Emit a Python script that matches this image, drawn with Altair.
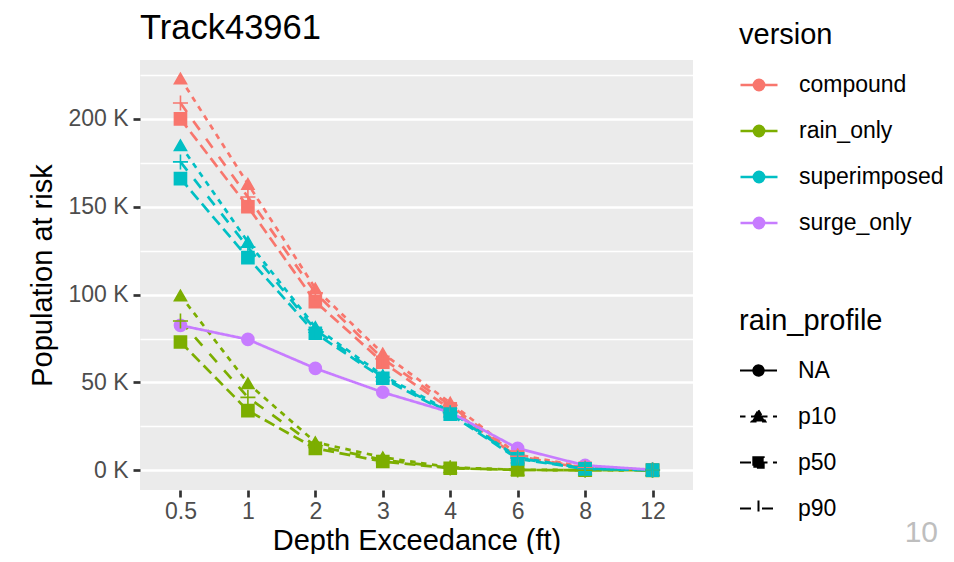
import altair as alt
import pandas as pd

depths = ["0.5", "1", "2", "3", "4", "6", "8", "12"]
versions = ["compound", "rain_only", "superimposed", "surge_only"]
profiles = ["NA", "p10", "p50", "p90"]
version_colors = ["#F8766D", "#7CAE00", "#00BFC4", "#C77CFF"]

# population at risk, in thousands
compound_p10 = [223, 163, 103.5, 66.5, 38.5, 9, 1.7, 0.3]
compound_p50 = [200, 150, 96, 61.5, 35, 7.5, 1.2, 0.2]
compound_p90 = [209, 155.5, 101, 63.5, 37, 8, 1.4, 0.3]
rain_only_p10 = [99.5, 49.5, 16, 7.4, 1.7, 0.3, 0.1, 0.0]
rain_only_p50 = [73, 34, 12.5, 5, 1.2, 0.2, 0.1, 0.0]
rain_only_p90 = [85, 41.5, 14, 6, 1.4, 0.2, 0.1, 0.0]
superimposed_p10 = [185, 130, 81.5, 54, 33.5, 7.4, 1.0, 0.2]
superimposed_p50 = [166, 121, 78, 52.4, 32, 6.5, 0.8, 0.1]
superimposed_p90 = [175.5, 127, 80, 53, 32.8, 7, 0.9, 0.2]
surge_only_na = [82.5, 74.5, 58, 44.4, 33, 12.5, 2.8, 0.3]

series = [
    ("compound", "p10", compound_p10),
    ("compound", "p50", compound_p50),
    ("compound", "p90", compound_p90),
    ("rain_only", "p10", rain_only_p10),
    ("rain_only", "p50", rain_only_p50),
    ("rain_only", "p90", rain_only_p90),
    ("superimposed", "p10", superimposed_p10),
    ("superimposed", "p50", superimposed_p50),
    ("superimposed", "p90", superimposed_p90),
    ("surge_only", "NA", surge_only_na),
]

rows = []
for v, p, vals in series:
    for d, val in zip(depths, vals):
        rows.append({"depth": d, "pop": val, "version": v, "rain_profile": p})
df = pd.DataFrame(rows)

FONT = "Liberation Sans"

color_scale = alt.Scale(domain=versions, range=version_colors)
profile_shapes = ["circle", "triangle-up", "square", "M-1.25,0H1.25M0,-1.25V1.25"]
dash_scale = alt.Scale(domain=profiles, range=[[1, 0], [5.5, 5.5], [11, 5.5], [11, 11]])

x_enc = alt.X(
    "depth:O",
    sort=depths,
    scale=alt.Scale(type="point", padding=0.6),
    axis=alt.Axis(title="Depth Exceedance (ft)", labelAngle=0, labelPadding=3, titlePadding=3),
)
y_enc = alt.Y(
    "pop:Q",
    scale=alt.Scale(domain=[-11.2, 233.5], nice=False, zero=False),
    axis=alt.Axis(
        title="Population at risk",
        values=[0, 25, 50, 75, 100, 125, 150, 175, 200, 225],
        labelExpr="datum.value % 50 === 0 ? datum.value + ' K' : ''",
        gridWidth={"condition": {"test": "datum.value % 50 === 0", "value": 2.6}, "value": 1.3},
        tickOpacity={"condition": {"test": "datum.value % 50 === 0", "value": 1}, "value": 0},
        labelPadding=5,
        titlePadding=10,
    ),
)

ver_symbol = "M-1,0H1M-0.28,0A0.28,0.28,0,1,1,0.28,0A0.28,0.28,0,1,1,-0.28,0Z"
version_legend = alt.Legend(
    title="version",
    orient="none",
    legendX=599,
    legendY=-39,
    symbolType=ver_symbol,
    symbolSize=1369,
    symbolStrokeWidth=2.5,
    rowPadding=14,
    labelOffset=20,
)

rain_shape_expr = (
    "datum.value === 'NA' ? '" + ver_symbol + "' : "
    "datum.value === 'p10' ? 'M-1,0H1M0,-0.34L0.37,0.27L-0.37,0.27Z' : "
    "datum.value === 'p50' ? 'M-1,0H1M-0.28,-0.28H0.28V0.28H-0.28Z' : "
    "'M-1,0H1M0,-0.43V0.43'"
)
rain_legend = alt.Legend(
    title="rain_profile",
    orient="none",
    legendX=599,
    legendY=247,
    symbolType=alt.ExprRef(expr=rain_shape_expr),
    symbolSize=1369,
    symbolStrokeWidth=2,
    symbolFillColor="black",
    symbolStrokeColor="black",
    rowPadding=14,
    labelOffset=20,
)

lines = alt.Chart(df).mark_line(strokeWidth=2.7).encode(
    x=x_enc,
    y=y_enc,
    color=alt.Color("version:N", scale=color_scale, legend=version_legend),
    strokeDash=alt.StrokeDash("rain_profile:N", scale=dash_scale, legend=rain_legend),
    detail="rain_profile:N",
)

point_layers = []
for prof, shp in zip(profiles, profile_shapes):
    point_layers.append(
        alt.Chart(df)
        .transform_filter(alt.datum.rain_profile == prof)
        .mark_point(filled=True, size=145, strokeWidth=1.6, opacity=1, shape=shp)
        .encode(
            x=x_enc,
            y=y_enc,
            color=alt.Color("version:N", scale=color_scale, legend=version_legend),
            stroke=alt.Stroke("version:N", scale=color_scale, legend=None),
        )
    )

caption_df = pd.DataFrame({"label": ["10"]})
caption = alt.Chart(caption_df).mark_text(
    align="right", baseline="alphabetic", fontSize=30, font=FONT, color="#BEBEBE"
).encode(text="label:N", x=alt.value(798), y=alt.value(482))

chart = (
    alt.layer(lines, *point_layers, caption)
    .properties(
        width=553,
        height=430,
        autosize=alt.AutoSizeParams(type="none"),
        padding={"left": 132, "top": 52, "right": 253, "bottom": 64},
        title=alt.TitleParams(
            "Track43961",
            anchor="start",
            frame="group",
            fontSize=34.5,
            font=FONT,
            fontWeight="normal",
            color="black",
            offset=-25,
        ),
    )
    .configure_view(fill="#EBEBEB", stroke=None)
    .configure_axis(
        labelFont=FONT,
        titleFont=FONT,
        labelFontSize=23,
        titleFontSize=29,
        titleFontWeight="normal",
        labelColor="#4D4D4D",
        titleColor="black",
        tickColor="#333333",
        tickSize=7,
        tickWidth=2.7,
        domain=False,
        gridColor="white",
        gridWidth=2.6,
    )
    .configure_legend(
        labelFont=FONT,
        titleFont=FONT,
        labelFontSize=23,
        titleFontSize=29,
        titleFontWeight="normal",
        labelColor="black",
        titleColor="black",
        titlePadding=15,
    )
)

chart.save("out.html", embed_options={"renderer": "svg", "actions": False})
